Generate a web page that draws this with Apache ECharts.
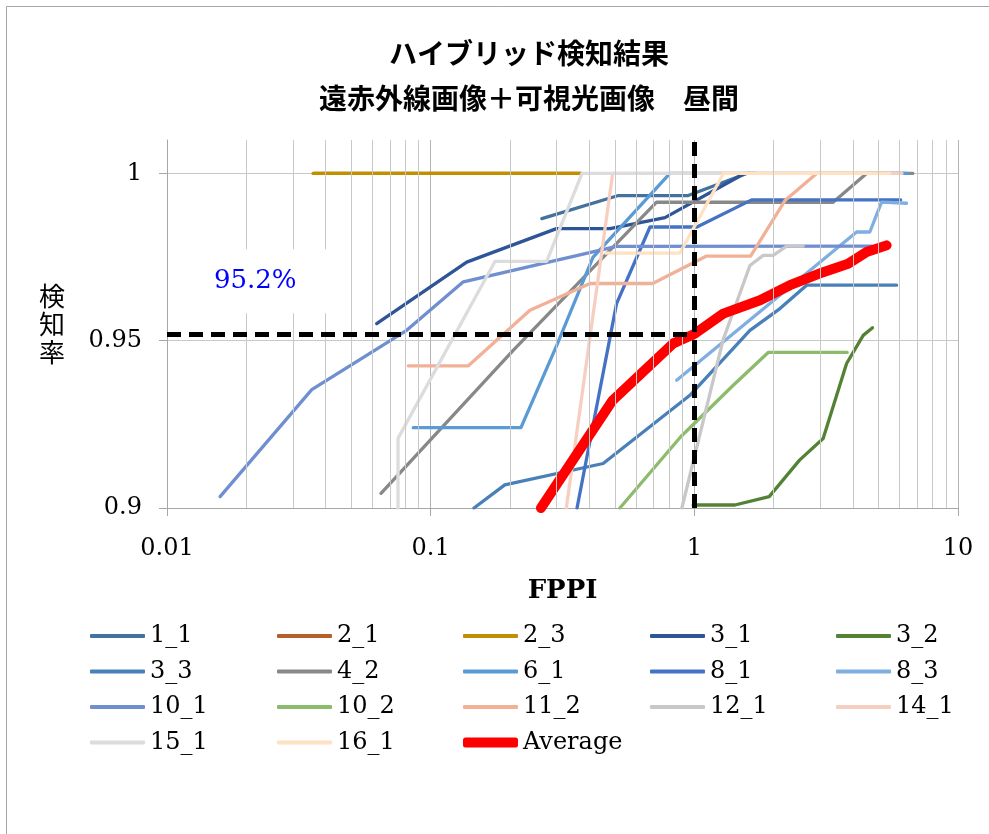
<!DOCTYPE html>
<html>
<head>
<meta charset="utf-8">
<script src="https://cdn.jsdelivr.net/npm/echarts@6/dist/echarts.min.js"></script>
<style>
  html, body { margin: 0; padding: 0; background: #fff; }
  #chart { width: 989px; height: 834px; }
</style>
</head>
<body>
<div id="chart"></div>
<script>
// Detection-rate vs FPPI curves, one per sequence, plus their average.
const SERIES_NAMES = ['1_1', '2_1', '2_3', '3_1', '3_2', '3_3', '4_2', '6_1', '8_1', '8_3',
                      '10_1', '10_2', '11_2', '12_1', '14_1', '15_1', '16_1', 'Average'];
const SERIES_COLORS = ['#44729E', '#B4602A', '#C09000', '#2E5597', '#548235', '#4A80B8', '#888888',
                       '#5B9BD5', '#4472C4', '#7FAEE0', '#6F8FD0', '#8CBB6C', '#F2B196', '#C8C8C8',
                       '#F6CFC0', '#DCDCDC', '#FEE2C2', '#FF0000'];

// [FPPI, detection rate]
const d1_1  = [[0.264, 0.9865], [0.515, 0.9934], [0.948, 0.9934], [1.58, 1.0], [1.7, 1.0]];
const d2_1  = [[0.036, 1.0], [0.37, 1.0]];
const d2_3  = [[0.0358, 1.0], [0.375, 1.0]];
const d3_1  = [[0.0624, 0.9551], [0.137, 0.9735], [0.300, 0.9835], [0.479, 0.9835], [0.774, 0.9868], [1.55, 1.0]];
const d3_2  = [[0.99, 0.9009], [1.425, 0.9009], [1.923, 0.9034], [2.506, 0.9143], [3.08, 0.9208],
               [3.78, 0.9432], [4.37, 0.9516], [4.74, 0.9539]];
const d3_3  = [[0.146, 0.9], [0.191, 0.9069], [0.451, 0.9133], [0.962, 0.9337], [1.625, 0.9531],
               [2.112, 0.9596], [2.667, 0.9666], [5.85, 0.9666]];
const d4_2  = [[0.0648, 0.9044], [0.206, 0.9472], [0.719, 0.9914], [3.36, 0.9914], [4.50, 1.0], [6.74, 1.0]];
const d6_1  = [[0.0859, 0.924], [0.220, 0.924], [0.301, 0.9487], [0.4125, 0.9749], [0.808, 1.0], [6.45, 1.0]];
const d8_1  = [[0.359, 0.9], [0.507, 0.9611], [0.679, 0.984], [1.023, 0.984], [1.649, 0.9921], [6.06, 0.9921]];
const d8_3  = [[0.857, 0.9382], [4.126, 0.9825], [4.63, 0.9825], [5.13, 0.9914], [6.38, 0.9911]];
const d10_1 = [[0.0159, 0.9034], [0.0354, 0.9354], [0.0811, 0.9531], [0.133, 0.9676], [0.507, 0.9782], [4.70, 0.9783]];
const d10_2 = [[0.522, 0.9], [0.888, 0.9213], [1.405, 0.9367], [1.906, 0.9465], [3.80, 0.9465]];
const d11_2 = [[0.0822, 0.9425], [0.139, 0.9425], [0.238, 0.9591], [0.402, 0.9671], [0.695, 0.9671],
               [1.113, 0.9753], [1.635, 0.9753], [2.206, 0.9919], [2.91, 1.0], [6.0, 1.0]];
const d12_1 = [[0.897, 0.9], [1.284, 0.9501], [1.625, 0.9725], [1.825, 0.9755], [1.992, 0.9755],
               [2.239, 0.9783], [2.588, 0.9783]];
const d14_1 = [[0.327, 0.9], [0.490, 1.0], [6.13, 1.0]];
const d15_1 = [[0.0752, 0.9], [0.0752, 0.9208], [0.1753, 0.9737], [0.2754, 0.9737], [0.375, 1.0], [1.3, 1.0]];
const d16_1 = [[0.461, 0.9762], [0.882, 0.9762], [1.29, 1.0], [5.52, 1.0]];
const dAverage = [[0.262, 0.9], [0.49, 0.9322], [0.832, 0.9492], [1.0, 0.952], [1.287, 0.9581], [1.774, 0.9621],
                  [2.305, 0.9666], [3.08, 0.9705], [3.83, 0.973], [4.50, 0.9765], [5.36, 0.9785]];

const SERIES_DATA = [d1_1, d2_1, d2_3, d3_1, d3_2, d3_3, d4_2, d6_1, d8_1, d8_3,
                     d10_1, d10_2, d11_2, d12_1, d14_1, d15_1, d16_1, dAverage];

// Reference point: average detection rate at FPPI = 1
const REF_FPPI = 1;
const REF_RATE = 0.952;
const REF_LABEL = '95.2%';
const REF_LABEL_POS = [0.0216, 0.9678];

// Axis ticks
const X_MIN = 0.01, X_MAX = 10;
const Y_MIN = 0.9, Y_MAX = 1.01, Y_STEP = 0.01;
const Y_LABELS = [0.9, 0.95, 1];

// Legend columns (series names per column)
const LEGEND_COLUMNS = [
  ['1_1', '3_3', '10_1', '15_1'],
  ['2_1', '4_2', '10_2', '16_1'],
  ['2_3', '6_1', '11_2'],
  ['3_1', '8_1', '12_1'],
  ['3_2', '8_3', '14_1']
];
const LEGEND_LEFT = [90, 277, 463, 650, 836];

// minor log gridlines: 2..9 within each decade
const minorX = [];
for (let e = -2; e < 1; e++) {
  for (let m = 2; m <= 9; m++) minorX.push(+(m * Math.pow(10, e)).toPrecision(3));
}

const SERIF = 'DejaVu Serif';
const CJK = 'Noto Sans CJK JP';
const LEGEND_TOP = 622;
const LEGEND_ROW = 35.5;

const chart = echarts.init(document.getElementById('chart'), null, { renderer: 'canvas' });

const series = SERIES_NAMES.map((name, i) => {
  const avg = name === 'Average';
  return {
    name,
    type: 'line',
    data: SERIES_DATA[i],
    symbol: 'none',
    showSymbol: false,
    clip: true,
    z: avg ? 4 : 3,
    lineStyle: { color: SERIES_COLORS[i], width: avg ? 10 : 3.3, cap: 'round', join: 'round' },
    itemStyle: { color: SERIES_COLORS[i] },
    emphasis: { disabled: true }
  };
});

// minor vertical gridlines on the log axis
series.unshift({
  name: '_grid',
  type: 'line',
  data: [],
  silent: true,
  z: 1,
  markLine: {
    silent: true,
    symbol: ['none', 'none'],
    label: { show: false },
    animation: false,
    lineStyle: { color: '#C8C8C8', width: 1, type: 'solid' },
    emphasis: { disabled: true },
    data: minorX.map(v => ({ xAxis: v }))
  }
});

// dashed guides to the reference point
series.push({
  name: '_guide',
  type: 'line',
  data: [],
  silent: true,
  z: 10,
  markLine: {
    silent: true,
    symbol: ['none', 'none'],
    label: { show: false },
    animation: false,
    lineStyle: { color: '#000', width: 5, type: [14, 8] },
    emphasis: { disabled: true },
    data: [
      [{ coord: [X_MIN, REF_RATE] }, { coord: [REF_FPPI, REF_RATE] }],
      [{ coord: [REF_FPPI, Y_MIN] }, { coord: [REF_FPPI, Y_MAX] }]
    ]
  }
});

const legendText = { fontFamily: SERIF, fontSize: 24, color: '#000', lineHeight: 28 };
const legends = LEGEND_COLUMNS.map((names, c) => ({
  orient: 'vertical',
  left: LEGEND_LEFT[c],
  top: LEGEND_TOP,
  padding: 0,
  icon: 'roundRect',
  itemWidth: 55,
  itemHeight: 4,
  itemGap: LEGEND_ROW - 28,
  selectedMode: false,
  data: names,
  textStyle: legendText
}));
// the average gets its own thicker key
legends.push({
  orient: 'vertical',
  left: LEGEND_LEFT[2],
  top: LEGEND_TOP + 3 * LEGEND_ROW,
  padding: 0,
  icon: 'roundRect',
  itemWidth: 55,
  itemHeight: 10,
  selectedMode: false,
  data: ['Average'],
  textStyle: legendText
});

const ySplitColors = [];
for (let v = Y_MIN; v < Y_MAX - 1e-9; v += Y_STEP) {
  const r = Math.round(v * 100) / 100;
  ySplitColors.push(Y_LABELS.some(l => Math.abs(l - r) < 1e-9) && r !== Y_MIN ? '#A6A6A6' : '#C8C8C8');
}
ySplitColors.push('#C8C8C8');

chart.setOption({
  animation: false,
  backgroundColor: '#fff',
  title: {
    text: 'ハイブリッド検知結果\n遠赤外線画像＋可視光画像　昼間',
    left: 524,
    top: 26,
    textAlign: 'center',
    textStyle: { fontFamily: CJK, fontWeight: 'bold', fontSize: 28, lineHeight: 45, color: '#000' }
  },
  legend: legends,
  grid: { left: 167, right: 31, top: 140, bottom: 326, containLabel: false },
  xAxis: {
    type: 'log',
    logBase: 10,
    min: X_MIN,
    max: X_MAX,
    name: 'FPPI',
    nameLocation: 'middle',
    nameGap: 70,
    nameTextStyle: { fontFamily: SERIF, fontWeight: 'bold', fontSize: 26, color: '#000' },
    axisLine: { show: true, lineStyle: { color: '#A6A6A6', width: 1 } },
    axisTick: { show: true, inside: false, length: 8, lineStyle: { color: '#A6A6A6' } },
    axisLabel: {
      margin: 29,
      fontFamily: SERIF, fontSize: 24, color: '#000',
      formatter: v => String(parseFloat(Number(v).toPrecision(6)))
    },
    splitLine: { show: true, lineStyle: { color: '#B4B4B4', width: 1 } },
    minorTick: { show: false },
    minorSplitLine: { show: false }
  },
  yAxis: {
    type: 'value',
    min: Y_MIN,
    max: Y_MAX,
    interval: Y_STEP,
    name: '検\n知\n率',
    nameLocation: 'middle',
    nameRotate: 0,
    nameGap: 115,
    nameTextStyle: { fontFamily: CJK, fontSize: 26, lineHeight: 28, color: '#000', align: 'center', verticalAlign: 'middle' },
    axisLine: { show: true, lineStyle: { color: '#A6A6A6', width: 1 } },
    axisTick: { show: true, inside: false, length: 8, customValues: Y_LABELS, lineStyle: { color: '#A6A6A6' } },
    axisLabel: {
      margin: 25,
      customValues: Y_LABELS,
      fontFamily: SERIF, fontSize: 24, color: '#000',
      formatter: v => String(parseFloat(Number(v).toPrecision(6)))
    },
    splitLine: { show: true, lineStyle: { color: ySplitColors, width: 1 } }
  },
  series
});

// annotation box for the reference value, anchored in data coordinates
const p = chart.convertToPixel({ gridIndex: 0 }, REF_LABEL_POS);
chart.setOption({
  graphic: [
    {
      type: 'rect', id: 'frame', silent: true, z: 0,
      shape: { x: 6.5, y: 6.5, width: 1100, height: 1000 },
      style: { fill: 'none', stroke: '#A6A6A6', lineWidth: 1 }
    },
    {
      type: 'rect', id: 'labelBox', silent: true, z: 20,
      shape: { x: p[0] - 72, y: p[1] - 32, width: 144, height: 64 },
      style: { fill: '#fff' }
    },
    {
      type: 'text', id: 'labelText', silent: true, z: 21,
      x: p[0], y: p[1],
      style: {
        text: REF_LABEL, fill: '#0000FF', font: '26px "DejaVu Serif"',
        align: 'center', verticalAlign: 'middle'
      }
    }
  ]
});
</script>
</body>
</html>
